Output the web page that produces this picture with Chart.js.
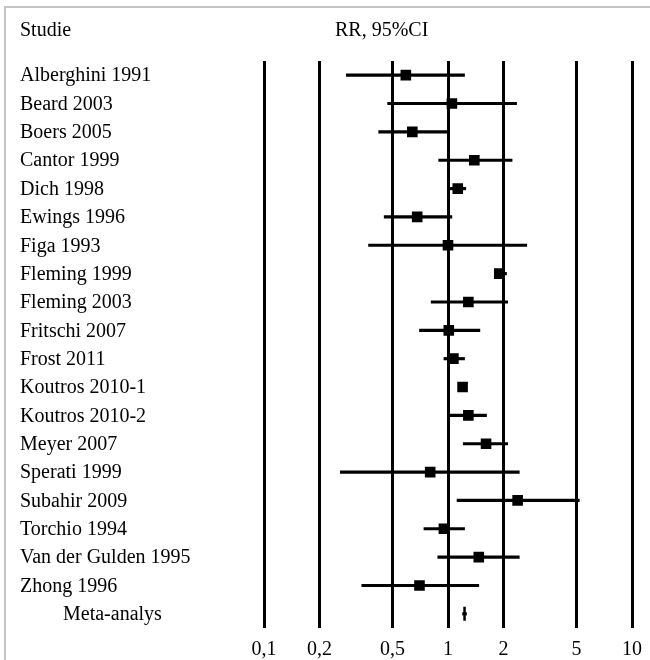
<!DOCTYPE html>
<html lang="sv">
<head>
    <meta charset="UTF-8">
    <title>Forest plot RR</title>
    <style>
        body {
            margin: 0;
            background: #ffffff;
        }

        .chart-box {
            position: relative;
            width: 650px;
            height: 660px;
        }
    </style>
    <script src="https://cdn.jsdelivr.net/npm/chart.js"></script>
</head>
<body>
<div class="chart-box">
    <canvas id="forestChart" width="650" height="660"></canvas>
</div>

<script>
    // studies and their relative risk with 95% CI
    const studies = ['Alberghini 1991', 'Beard 2003', 'Boers 2005', 'Cantor 1999', 'Dich 1998',
        'Ewings 1996', 'Figa 1993', 'Fleming 1999', 'Fleming 2003', 'Fritschi 2007', 'Frost 2011',
        'Koutros 2010-1', 'Koutros 2010-2', 'Meyer 2007', 'Sperati 1999', 'Subahir 2009',
        'Torchio 1994', 'Van der Gulden 1995', 'Zhong 1996'];
    const rr = [0.59, 1.05, 0.64, 1.39, 1.13, 0.68, 1.0, 1.90, 1.29, 1.01, 1.07,
        1.20, 1.29, 1.61, 0.80, 2.39, 0.95, 1.47, 0.70];
    const lower = [0.28, 0.47, 0.42, 0.89, 1.03, 0.45, 0.37, 1.80, 0.81, 0.70, 0.95,
        1.17, 1.00, 1.21, 0.26, 1.12, 0.74, 0.88, 0.34];
    const upper = [1.23, 2.36, 1.00, 2.23, 1.25, 1.05, 2.68, 2.08, 2.11, 1.49, 1.23,
        1.23, 1.62, 2.11, 2.44, 5.17, 1.23, 2.44, 1.47];

    const metaLabel = 'Meta-analys';
    const metaRR = 1.23;
    const metaLower = 1.20;
    const metaUpper = 1.26;

    const tickValues = [0.1, 0.2, 0.5, 1, 2, 5, 10];
    const tickLabels = ['0,1', '0,2', '0,5', '1', '2', '5', '10'];

    const rowLabels = studies.concat([metaLabel]);
    const serif = '"Liberation Serif", "Times New Roman", serif';

    // frame, header and study names
    const textPlugin = {
        id: 'forestText',
        beforeDraw(chart) {
            const ctx = chart.ctx;
            ctx.save();
            ctx.strokeStyle = '#c4c4c4';
            ctx.lineWidth = 2;
            ctx.beginPath();
            ctx.moveTo(5, 660);
            ctx.lineTo(5, 7);
            ctx.lineTo(650, 7);
            ctx.stroke();
            ctx.restore();
        },
        afterDraw(chart) {
            const ctx = chart.ctx;
            const yScale = chart.scales.y;
            ctx.save();
            ctx.fillStyle = '#000';
            ctx.font = '20px ' + serif;
            ctx.textBaseline = 'middle';
            ctx.textAlign = 'left';
            ctx.fillText('Studie', 20, 31);
            ctx.fillText('RR, 95%CI', 335, 31);
            rowLabels.forEach((name, i) => {
                const y = yScale.getPixelForValue(i) + 1;
                const x = name === metaLabel ? 63 : 20;
                ctx.fillText(name, x, y);
            });
            ctx.restore();
        }
    };

    const ciData = studies.map((s, i) => [lower[i], upper[i]]);
    ciData.push([metaLower, metaUpper]);

    new Chart(document.getElementById('forestChart'), {
        type: 'bar',
        data: {
            labels: rowLabels,
            datasets: [
                {
                    type: 'line',
                    data: studies.map((s, i) => ({x: rr[i], y: s})),
                    showLine: false,
                    pointStyle: 'rect',
                    pointRadius: 7.5,
                    backgroundColor: '#000',
                    borderColor: '#000',
                    borderWidth: 0
                },
                {
                    type: 'line',
                    data: [{x: metaRR, y: metaLabel}],
                    showLine: false,
                    pointStyle: 'line',
                    rotation: 90,
                    pointRadius: 7,
                    borderColor: '#000',
                    borderWidth: 2.5
                },
                {
                    data: ciData,
                    backgroundColor: '#000',
                    barThickness: 2.5
                }
            ]
        },
        options: {
            indexAxis: 'y',
            responsive: false,
            animation: false,
            layout: {
                padding: {left: 264, right: 18, top: 61, bottom: 0}
            },
            plugins: {
                legend: {display: false},
                tooltip: {enabled: false}
            },
            scales: {
                y: {
                    type: 'category',
                    offset: true,
                    display: false
                },
                x: {
                    type: 'logarithmic',
                    min: 0.1,
                    max: 10,
                    afterBuildTicks(scale) {
                        scale.ticks = tickValues.map(v => ({value: v}));
                    },
                    afterFit(scale) {
                        scale.height = 32;
                        scale.paddingLeft = 0;
                        scale.paddingRight = 0;
                    },
                    grid: {
                        color: '#000',
                        lineWidth: 3,
                        drawTicks: false
                    },
                    border: {display: false},
                    ticks: {
                        color: '#000',
                        font: {family: serif, size: 20, lineHeight: 1},
                        padding: 12,
                        maxRotation: 0,
                        autoSkip: false,
                        callback: (v, i) => tickLabels[i]
                    }
                }
            }
        },
        plugins: [textPlugin]
    });
</script>
</body>
</html>
